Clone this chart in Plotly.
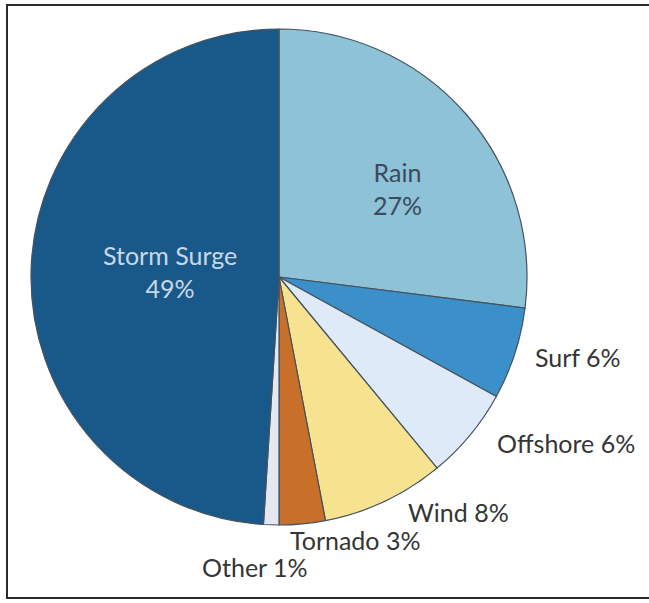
import plotly.graph_objects as go

# Share of deaths by cause, clockwise from 12 o'clock
causes = ["Rain", "Surf", "Offshore", "Wind", "Tornado", "Other", "Storm Surge"]
shares = [27, 6, 6, 8, 3, 1, 49]
colors = ["#8dc2d7", "#3c90ca", "#dfeaf8", "#f7e38f", "#c8702a", "#e4e8f0", "#18598a"]

W, H = 649, 603
cx, cy, r = 279, 277, 248  # pie centre and radius in pixels

fig = go.Figure(go.Pie(
    labels=causes,
    values=shares,
    sort=False,
    direction="clockwise",
    rotation=0,
    marker=dict(colors=colors, line=dict(color="#46525e", width=1.2)),
    textinfo="none",
    hoverinfo="label+percent",
    domain=dict(x=[(cx - r) / W, (cx + r) / W], y=[1 - (cy + r) / H, 1 - (cy - r) / H]),
    showlegend=False,
))

# label placement (pixels) and colour per cause
label_pos = {
    "Rain": (397, 188, "#3b4a5c", True),
    "Storm Surge": (170, 272, "#c9d8e6", True),
    "Surf": (578, 357, "#353535", False),
    "Offshore": (566, 443, "#353535", False),
    "Wind": (458, 512, "#353535", False),
    "Tornado": (355, 540, "#353535", False),
    "Other": (255, 567, "#353535", False),
}

annotations = []
for name, val in zip(causes, shares):
    x, y, col, inside = label_pos[name]
    sep = "<br>" if inside else " "
    annotations.append(dict(
        x=x / W, y=1 - y / H, xref="paper", yref="paper",
        text=f"{name}{sep}{val}%", showarrow=False,
        font=dict(family="Lato, Open Sans, sans-serif", size=25, color=col),
        xanchor="center", yanchor="middle", align="center",
    ))

# surrounding frame
shapes = [dict(type="rect", xref="paper", yref="paper",
               x0=7 / W, x1=1.02, y0=1 - 598 / H, y1=1 - 5 / H,
               line=dict(color="#2a2a2a", width=2), fillcolor="rgba(0,0,0,0)")]

fig.update_layout(
    width=W, height=H,
    margin=dict(l=0, r=0, t=0, b=0),
    paper_bgcolor="white",
    plot_bgcolor="white",
    annotations=annotations,
    shapes=shapes,
)

fig.write_html("out.html")
